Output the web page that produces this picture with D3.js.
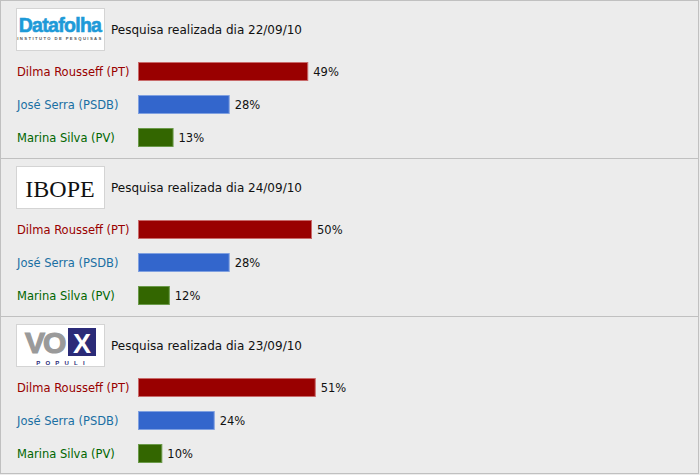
<!DOCTYPE html>
<html><head><meta charset="utf-8">
<script src="https://cdn.jsdelivr.net/npm/d3@7"></script>
<style>html,body{margin:0;padding:0;background:#ececec;}svg{display:block;}</style>
</head><body>
<script>
const institutes = ["Datafolha", "IBOPE", "Vox Populi"];
const dates = ["22/09/10", "24/09/10", "23/09/10"];
const candidates = ["Dilma Rousseff (PT)", "José Serra (PSDB)", "Marina Silva (PV)"];
const dilma = [49, 50, 51];
const serra = [28, 28, 24];
const marina = [13, 12, 10];

const W = 700, H = 475;
const series = [dilma, serra, marina];
const fills = ["#990000", "#3366cc", "#336600"];
const strokes = ["#c86a6a", "#7fa0e0", "#6b9a4a"];
const labelColors = ["#990000", "#1a6fa3", "#006600"];
const font = "DejaVu Sans, Verdana, sans-serif";

const svg = d3.select("body").append("svg").attr("width", W).attr("height", H);
svg.append("rect").attr("width", W).attr("height", H).attr("fill", "#ececec");

const panelY = d3.scaleBand().domain(institutes).range([0, 474]).paddingInner(0).paddingOuter(0);
const rowY = d3.scalePoint().domain(candidates).range([62, 128]);
const x = d3.scaleLinear().domain([3.5, 50]).range([0, 174]);
const barX = 138, barH = 19;

institutes.forEach((inst, i) => {
  const g = svg.append("g").attr("transform", `translate(0,${Math.round(panelY(inst))})`);
  // logo box
  g.append("rect").attr("x", 16.5).attr("y", 8.5).attr("width", 88).attr("height", 42)
    .attr("fill", "#fff").attr("stroke", "#d4d4d4");
  const lg = g.append("g").attr("transform", "translate(16,8)");
  if (i === 0) {
    lg.append("text").attr("x", 44).attr("y", 24).attr("text-anchor", "middle")
      .attr("font-family", "Arial, Liberation Sans, sans-serif").attr("font-weight", "bold")
      .attr("font-size", 19.5).attr("letter-spacing", -0.7).attr("fill", "#1e9ad8")
      .attr("stroke", "#1e9ad8").attr("stroke-width", 0.6).text("Datafolha");
    lg.append("text").attr("x", 44).attr("y", 32).attr("text-anchor", "middle")
      .attr("font-family", "Arial, Liberation Sans, sans-serif").attr("font-weight", "bold")
      .attr("font-size", 4.2).attr("letter-spacing", 1.4).attr("fill", "#555").text("INSTITUTO DE PESQUISAS");
  } else if (i === 1) {
    lg.append("text").attr("x", 44).attr("y", 31).attr("text-anchor", "middle")
      .attr("font-family", "Liberation Serif, Times New Roman, serif")
      .attr("font-size", 24).attr("fill", "#111").text("IBOPE");
  } else {
    lg.append("text").attr("x", 9).attr("y", 29)
      .attr("font-family", "Arial, Liberation Sans, sans-serif").attr("font-weight", "bold")
      .attr("font-size", 30).attr("letter-spacing", -2).attr("fill", "#9a9a9a")
      .attr("stroke", "#9a9a9a").attr("stroke-width", 1.2).text("VO");
    lg.append("rect").attr("x", 52).attr("y", 4).attr("width", 28).attr("height", 28).attr("fill", "#2b2b78");
    lg.append("text").attr("x", 66).attr("y", 28.5).attr("text-anchor", "middle")
      .attr("font-family", "Arial, Liberation Sans, sans-serif").attr("font-weight", "bold")
      .attr("font-size", 27).attr("fill", "#fff").text("X");
    lg.append("text").attr("x", 47).attr("y", 41).attr("text-anchor", "middle")
      .attr("font-family", "Arial, Liberation Sans, sans-serif").attr("font-weight", "bold")
      .attr("font-size", 6).attr("letter-spacing", 5.2).attr("fill", "#2b2b78").text("POPULI");
  }
  // date text
  g.append("text").attr("x", 111).attr("y", 34).attr("font-family", font).attr("font-size", 12)
    .attr("fill", "#111").text("Pesquisa realizada dia " + dates[i]);

  candidates.forEach((c, j) => {
    const v = series[j][i];
    const y0 = rowY(c);
    g.append("text").attr("x", 17).attr("y", y0 + 14).attr("font-family", font).attr("font-size", 11.5)
      .attr("fill", labelColors[j]).text(c);
    g.append("rect").attr("x", barX + 0.5).attr("y", y0 + 0.5).attr("width", x(v) - 1).attr("height", barH - 1)
      .attr("fill", fills[j]).attr("stroke", strokes[j]).attr("stroke-width", 1);
    g.append("text").attr("x", barX + x(v) + 5).attr("y", y0 + 14).attr("font-family", font).attr("font-size", 11.5)
      .attr("fill", "#111").text(v + "%");
  });
});

// borders
const lineColor = "#c0c0c0";
svg.append("rect").attr("x", 0.5).attr("y", 0.5).attr("width", 698).attr("height", 473)
  .attr("fill", "none").attr("stroke", lineColor);
institutes.slice(1).forEach(inst => {
  const yy = Math.round(panelY(inst)) + 0.5;
  svg.append("line").attr("x1", 0).attr("x2", 699).attr("y1", yy).attr("y2", yy).attr("stroke", lineColor);
});
</script>
</body></html>
